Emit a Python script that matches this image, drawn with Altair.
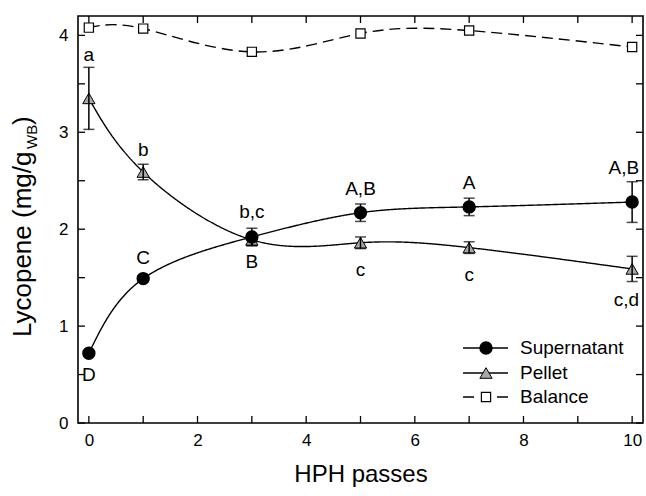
import altair as alt
import pandas as pd

# ---- data ----
passes = [0, 1, 3, 5, 7, 10]
supernatant = [0.72, 1.49, 1.92, 2.17, 2.23, 2.28]
supernatant_err = [0.02, 0.03, 0.09, 0.09, 0.09, 0.21]
pellet = [3.35, 2.59, 1.89, 1.86, 1.81, 1.59]
pellet_err = [0.32, 0.08, 0.06, 0.06, 0.06, 0.13]
balance = [4.08, 4.07, 3.83, 4.02, 4.05, 3.88]

sup_letters = ["D", "C", "B", "A,B", "A", "A,B"]
sup_letter_y = [0.50, 1.70, 1.66, 2.41, 2.48, 2.63]
pel_letters = ["a", "b", "b,c", "c", "c", "c,d"]
pel_letter_y = [3.80, 2.82, 2.18, 1.58, 1.53, 1.27]

series_names = ["Supernatant", "Pellet", "Balance"]
x_tick_values = [0, 1, 2, 3, 4, 5, 6, 7, 8, 9, 10]
y_tick_values = [0, 0.5, 1, 1.5, 2, 2.5, 3, 3.5, 4]
x_label_values = [0, 2, 4, 6, 8, 10]
y_label_values = [0, 1, 2, 3, 4]

W, H = 565, 407
FONT = "Liberation Sans"

rows = []
for name, vals, errs in [("Supernatant", supernatant, supernatant_err),
                         ("Pellet", pellet, pellet_err),
                         ("Balance", balance, [0] * len(balance))]:
    for p, v, e in zip(passes, vals, errs):
        rows.append({"series": name, "passes": p, "value": v, "lo": v - e, "hi": v + e})
df = pd.DataFrame(rows)

letters = pd.DataFrame(
    [{"passes": p, "y": y, "label": l} for p, y, l in zip(passes, sup_letter_y, sup_letters)]
    + [{"passes": p, "y": y, "label": l} for p, y, l in zip(passes, pel_letter_y, pel_letters)]
)

xscale = alt.Scale(domain=[-0.2, 10.2], nice=False, zero=False)
yscale = alt.Scale(domain=[0, 4.2], nice=False)
xaxis = alt.Axis(values=x_label_values, title="HPH passes", grid=False, ticks=False, domain=False,
                 labelFontSize=17, labelPadding=9, titleFontSize=24, titleFontWeight="normal",
                 titlePadding=14, labelFont=FONT, titleFont=FONT, labelColor="black", titleColor="black")
yaxis = alt.Axis(values=y_label_values, title=None, grid=False, ticks=False, domain=False,
                 labelFontSize=17, labelPadding=10, labelFont=FONT, labelColor="black")


def X(field="passes"):
    return alt.X(f"{field}:Q", scale=xscale, axis=xaxis)


def Y(field):
    return alt.Y(f"{field}:Q", scale=yscale, axis=yaxis)


base = alt.Chart(df)

lines = base.mark_line(interpolate="natural", color="black", strokeWidth=1.4).encode(
    x=X(), y=Y("value"), detail="series:N",
    strokeDash=alt.StrokeDash("series:N", scale=alt.Scale(domain=series_names,
                                                          range=[[1, 0], [1, 0], [11, 6]]), legend=None),
)

pel_pts = base.transform_filter(alt.datum.series == "Pellet").mark_point(
    shape="triangle-up", filled=True, fill="#a8a8a8", stroke="black", strokeWidth=1, size=150, opacity=1
).encode(x=X(), y=Y("value"))

sup_pts = base.transform_filter(alt.datum.series == "Supernatant").mark_point(
    shape="circle", filled=True, fill="black", stroke="black", size=130, opacity=1
).encode(x=X(), y=Y("value"))

bal_pts = base.transform_filter(alt.datum.series == "Balance").mark_point(
    shape="square", filled=True, fill="white", stroke="black", strokeWidth=1.2, size=85, opacity=1
).encode(x=X(), y=Y("value"))

err_src = base.transform_filter(alt.datum.series != "Balance")
err_rule = err_src.mark_rule(color="black", strokeWidth=1.5).encode(x=X(), y=Y("lo"), y2="hi:Q")
err_lo = err_src.mark_tick(color="black", orient="horizontal", size=11, thickness=1.5).encode(x=X(), y=Y("lo"))
err_hi = err_src.mark_tick(color="black", orient="horizontal", size=11, thickness=1.5).encode(x=X(), y=Y("hi"))

letter_mid = alt.Chart(letters).transform_filter(alt.datum.passes < 10).mark_text(
    font=FONT, fontSize=19, color="black", baseline="middle").encode(
    x=X(), y=Y("y"), text="label:N")
letter_end = alt.Chart(letters).transform_filter(alt.datum.passes >= 10).mark_text(
    font=FONT, fontSize=19, color="black", baseline="middle", align="right", dx=7).encode(
    x=X(), y=Y("y"), text="label:N")

# inward ticks on all four sides
xt = pd.DataFrame({"t": x_tick_values})
yt = pd.DataFrame({"t": y_tick_values})
TL = 7
ticks_bottom = alt.Chart(xt).mark_rule(color="black", strokeWidth=1.3).encode(
    x=X("t"), y=alt.value(H), y2=alt.value(H - TL))
ticks_top = alt.Chart(xt).mark_rule(color="black", strokeWidth=1.3).encode(
    x=X("t"), y=alt.value(0), y2=alt.value(TL))
ticks_left = alt.Chart(yt).mark_rule(color="black", strokeWidth=1.3).encode(
    y=Y("t"), x=alt.value(0), x2=alt.value(TL))
ticks_right = alt.Chart(yt).mark_rule(color="black", strokeWidth=1.3).encode(
    y=Y("t"), x=alt.value(W), x2=alt.value(W - TL))

# y-axis title with subscript, built from text pieces
one = pd.DataFrame({"a": [0]})
ytitle_main = alt.Chart(one).mark_text(text="Lycopene (mg/g", font=FONT, fontSize=26, angle=270,
                                       align="left", baseline="alphabetic", color="black").encode(
    x=alt.value(-47), y=alt.value(321))
ytitle_sub = alt.Chart(one).mark_text(text="WB", font=FONT, fontSize=15, angle=270,
                                      align="left", baseline="alphabetic", color="black").encode(
    x=alt.value(-41), y=alt.value(133))
ytitle_close = alt.Chart(one).mark_text(text=")", font=FONT, fontSize=26, angle=270,
                                        align="left", baseline="alphabetic", color="black").encode(
    x=alt.value(-47), y=alt.value(109))

# manual legend (line + symbol samples)
leg_rows = [332, 357, 381]
lx0, lx1, lsym, ltext = 385, 430, 408, 442
legend_layers = []
for name, ly in zip(series_names, leg_rows):
    if name == "Balance":
        ln = alt.Chart(one).mark_rule(color="black", strokeWidth=1.4, strokeDash=[11, 23]).encode(
            x=alt.value(lx0), x2=alt.value(lx1), y=alt.value(ly))
        sym = alt.Chart(one).mark_point(shape="square", filled=True, fill="white", stroke="black",
                                        strokeWidth=1.2, size=85, opacity=1).encode(
            x=alt.value(lsym), y=alt.value(ly))
    elif name == "Pellet":
        ln = alt.Chart(one).mark_rule(color="black", strokeWidth=1.4).encode(
            x=alt.value(lx0), x2=alt.value(lx1), y=alt.value(ly))
        sym = alt.Chart(one).mark_point(shape="triangle-up", filled=True, fill="#a8a8a8", stroke="black",
                                        strokeWidth=1, size=150, opacity=1).encode(
            x=alt.value(lsym), y=alt.value(ly))
    else:
        ln = alt.Chart(one).mark_rule(color="black", strokeWidth=1.4).encode(
            x=alt.value(lx0), x2=alt.value(lx1), y=alt.value(ly))
        sym = alt.Chart(one).mark_point(shape="circle", filled=True, fill="black", stroke="black",
                                        size=130, opacity=1).encode(
            x=alt.value(lsym), y=alt.value(ly))
    txt = alt.Chart(one).mark_text(text=name, font=FONT, fontSize=19, align="left", baseline="middle",
                                   color="black").encode(x=alt.value(ltext), y=alt.value(ly))
    legend_layers += [ln, sym, txt]

chart = alt.layer(
    lines, pel_pts, sup_pts, bal_pts, err_rule, err_lo, err_hi, letter_mid, letter_end,
    ticks_bottom, ticks_top, ticks_left, ticks_right,
    ytitle_main, ytitle_sub, ytitle_close, *legend_layers
).properties(
    width=W, height=H,
    autosize=alt.AutoSizeParams(type="none"),
    padding={"left": 78, "top": 16, "right": 3, "bottom": 73},
    background="white",
).configure_view(stroke="black", strokeWidth=1.6)

chart.save("out.html", embed_options={"renderer": "svg", "actions": False})
